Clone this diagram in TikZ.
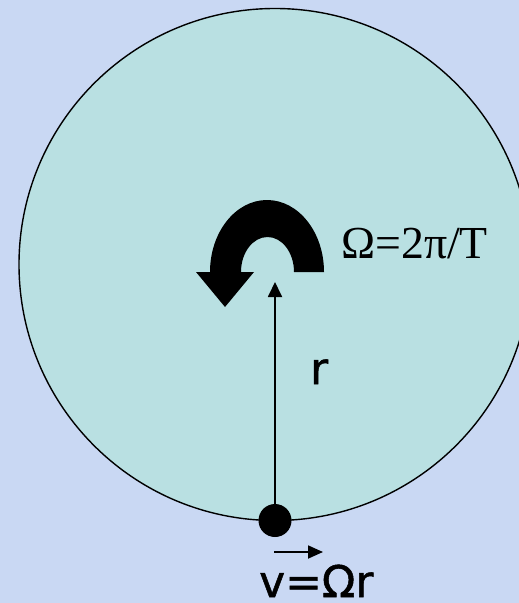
\documentclass[tikz,border=0pt]{standalone}
\usepackage{fontspec}
\setmainfont{Liberation Serif}
\newfontfamily\labelfont[FakeBold=1.2]{DejaVu Sans}
\usepackage{tikz}
\usetikzlibrary{arrows.meta}
\definecolor{bgblue}{HTML}{C9D8F3}
\definecolor{discteal}{HTML}{B9E0E2}

\begin{document}
\begin{tikzpicture}[x=1bp, y=-1bp,
    lbl/.style={font=\labelfont\fontsize{44}{48}\selectfont,
                inner sep=0pt, anchor=base west},
    omega/.style={font=\fontsize{46}{50}\selectfont,
                  inner sep=0pt, anchor=base west},
    arr/.style={-{Triangle[width=14bp,length=15bp]}, line width=1.8bp}
]

% Background
\fill[bgblue] (0,0) rectangle (519,603);
\useasboundingbox (0,0) rectangle (519,603);
\clip (0,0) rectangle (519,603);

% Rotating disc
\node[circle, draw, line width=1.4bp, fill=discteal, inner sep=0pt,
      minimum size=512bp] (disc) at (275,264.5) {};

% Sense of rotation
\fill (324,272) arc[start angle=0, end angle=-180, x radius=57, y radius=72]
      -- (196,272) -- (225,307) -- (254,272) -- (241,272)
      arc[start angle=180, end angle=360, x radius=26.5, y radius=35] -- cycle;
\node[omega] (omega) at (341,258) {Ω=2π/T};

% Radius and point mass
\node[circle, fill=black, inner sep=0pt, minimum size=33bp] (mass) at (275,520.5) {};
\coordinate (hub) at (275,282);
\draw[arr] (mass.center) -- (hub);
\node[lbl] (rlbl) at (310,384) {r};

% Velocity
\coordinate (vtail) at (274,552);
\coordinate (vhead) at (323,552);
\draw[arr, -{Triangle[width=13bp,length=15bp]}] (vtail) -- (vhead);
\node[lbl] (vlbl) at (259,597) {v=Ωr};

\end{tikzpicture}
\end{document}
